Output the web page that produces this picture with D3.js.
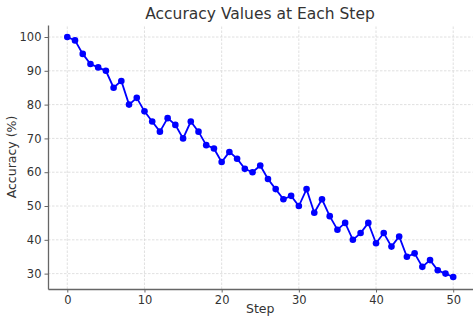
<!DOCTYPE html>
<html><head><meta charset="utf-8">
<script src="https://cdn.jsdelivr.net/npm/d3@7"></script>
<style>body{margin:0;background:#fff}svg{display:block}text{font-family:"DejaVu Sans",sans-serif}</style>
</head><body><svg id="c" width="474" height="316"></svg>
<script>
const steps = d3.range(0, 51);
const accuracy = [100,99,95,92,91,90,85,87,80,82,78,75,72,76,74,70,75,72,68,67,63,66,64,61,60,62,58,55,52,53,50,55,48,52,47,43,45,40,42,45,39,42,38,41,35,36,32,34,31,30,29];
const xTicks = [0,10,20,30,40,50];
const yTicks = [30,40,50,60,70,80,90,100];

const svg = d3.select("#c");
const m = {l:48, r:474-472.5, t:25, b:316-289};
const W = 474, H = 316;
const x = d3.scaleLinear().domain([-2.5, 52.5]).range([m.l, W-m.r]);
const y = d3.scaleLinear().domain([25.45, 103.55]).range([H-m.b, m.t]);

// grid
const g = svg.append("g");
g.selectAll(".gx").data(xTicks).join("line")
  .attr("x1", d=>x(d)).attr("x2", d=>x(d)).attr("y1", y.range()[0]).attr("y2", y.range()[1])
  .attr("stroke", "#d8d8d8").attr("stroke-width", 0.8).attr("stroke-dasharray", "2.5,1.5");
g.selectAll(".gy").data(yTicks).join("line")
  .attr("y1", d=>y(d)).attr("y2", d=>y(d)).attr("x1", x.range()[0]).attr("x2", x.range()[1])
  .attr("stroke", "#d8d8d8").attr("stroke-width", 0.8).attr("stroke-dasharray", "2.5,1.5");

// axes
const xa = svg.append("g").attr("transform", `translate(0,${H-m.b})`)
  .call(d3.axisBottom(x).tickValues(xTicks).tickSize(3.5).tickPadding(3).tickSizeOuter(0));
const ya = svg.append("g").attr("transform", `translate(${m.l},0)`)
  .call(d3.axisLeft(y).tickValues(yTicks).tickSize(3.5).tickPadding(3).tickSizeOuter(0));
[xa, ya].forEach(a => {
  a.select(".domain").attr("stroke", "#666").attr("stroke-width", 1.3);
  a.selectAll(".tick line").attr("stroke", "#666");
  a.selectAll(".tick text").attr("fill", "#333").style("font-size", "11.5px");
});

// line & points
const line = d3.line().x((d,i)=>x(steps[i])).y(d=>y(d));
svg.append("path").datum(accuracy).attr("d", line)
  .attr("fill", "none").attr("stroke", "#0000ff").attr("stroke-width", 1.8);
svg.selectAll(".pt").data(accuracy).join("circle")
  .attr("cx", (d,i)=>x(steps[i])).attr("cy", d=>y(d)).attr("r", 3.3).attr("fill", "#0000ff");

// labels
svg.append("text").attr("x", 260).attr("y", 19).attr("text-anchor", "middle")
  .attr("fill", "#333").style("font-size", "15.5px").text("Accuracy Values at Each Step");
svg.append("text").attr("x", (m.l + W-m.r)/2).attr("y", 312.5).attr("text-anchor", "middle")
  .attr("fill", "#333").style("font-size", "12.5px").text("Step");
svg.append("text").attr("transform", `translate(16,${(m.t + H-m.b)/2}) rotate(-90)`).attr("text-anchor", "middle")
  .attr("fill", "#333").style("font-size", "12.5px").text("Accuracy (%)");
</script></body></html>
